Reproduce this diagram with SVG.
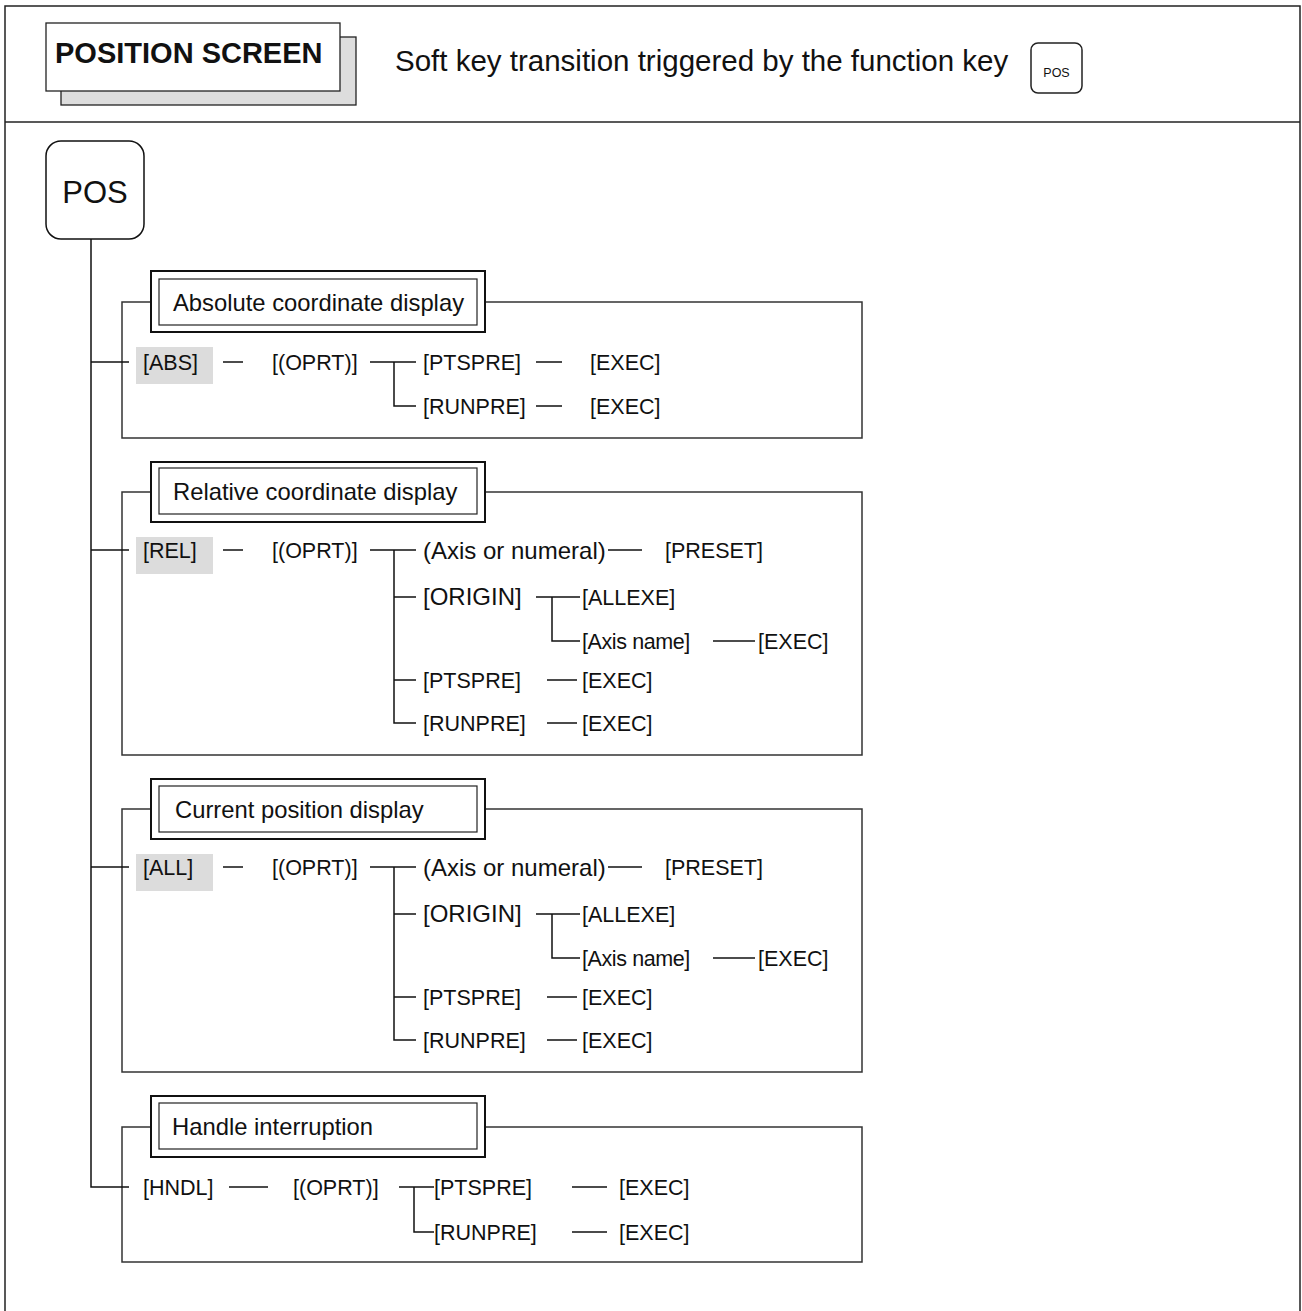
<svg xmlns="http://www.w3.org/2000/svg" width="1302" height="1311" viewBox="0 0 1302 1311">
  <style>
    text { font-family: "Liberation Sans", Arial, sans-serif; fill: #111; }
    .frame { fill: none; stroke: #222; stroke-width: 1.5; }
    .ln { fill: none; stroke: #111; stroke-width: 1.5; }
    .sec { fill: none; stroke: #333; stroke-width: 1.5; }
    .tOuter { fill: #fff; stroke: #111; stroke-width: 2; }
    .tInner { fill: none; stroke: #222; stroke-width: 1.2; }
    .ttl { font-size: 23.8px; }
    .key { font-size: 21.5px; }
    .big { font-size: 24px; }
    .hl { fill: #dcdcdc; }
  </style>

  <!-- outer frame and header divider -->
  <g id="frame">
    <path class="frame" d="M5,1311 V6 H1300 V1311"/>
    <path class="frame" d="M5,122 H1300"/>
  </g>

  <!-- header -->
  <g id="header">
    <rect x="61" y="37" width="295" height="68" fill="#dddddd" stroke="#222" stroke-width="1.3"/>
    <rect x="46" y="23" width="294" height="68" fill="#fff" stroke="#222" stroke-width="1.3"/>
    <text x="55" y="63" font-size="29" font-weight="bold">POSITION SCREEN</text>
    <text x="395" y="71" font-size="29.5">Soft key transition triggered by the function key</text>
    <rect x="1031" y="43" width="51" height="50" rx="7" fill="#fff" stroke="#222" stroke-width="1.5"/>
    <text x="1056.5" y="77" font-size="12.5" text-anchor="middle">POS</text>
  </g>

  <!-- root function key -->
  <g id="node-pos">
    <rect x="46" y="141" width="98" height="98" rx="15" fill="#fff" stroke="#111" stroke-width="1.5"/>
    <text x="95" y="203" font-size="31" text-anchor="middle">POS</text>
  </g>

  <!-- section frames and titles -->
  <g id="sec-abs">
    <path class="sec" d="M151,302 H122 V438 H862 V302 H485"/>
    <rect class="tOuter" x="151" y="271" width="334" height="61"/>
    <rect class="tInner" x="159" y="279" width="318" height="46"/>
    <text class="ttl" x="173" y="311">Absolute coordinate display</text>
  </g>
  <g id="sec-rel">
    <path class="sec" d="M151,492 H122 V755 H862 V492 H485"/>
    <rect class="tOuter" x="151" y="462" width="334" height="60"/>
    <rect class="tInner" x="159" y="468" width="318" height="46"/>
    <text class="ttl" x="173" y="500">Relative coordinate display</text>
  </g>
  <g id="sec-all">
    <path class="sec" d="M151,809 H122 V1072 H862 V809 H485"/>
    <rect class="tOuter" x="151" y="779" width="334" height="60"/>
    <rect class="tInner" x="159" y="786" width="318" height="46"/>
    <text class="ttl" x="175" y="818">Current position display</text>
  </g>
  <g id="sec-hndl">
    <path class="sec" d="M151,1127 H122 V1262 H862 V1127 H485"/>
    <rect class="tOuter" x="151" y="1096" width="334" height="61"/>
    <rect class="tInner" x="159" y="1103" width="318" height="46"/>
    <text class="ttl" x="172" y="1135">Handle interruption</text>
  </g>

  <!-- connectors -->
  <g id="connectors">
    <!-- trunk from POS -->
    <path class="ln" d="M91,239 V1187 H129"/>
    <path class="ln" d="M91,362 H129"/>
    <path class="ln" d="M91,550 H129"/>
    <path class="ln" d="M91,867 H129"/>

    <!-- ABS branch -->
    <path class="ln" d="M223,362 H243"/>
    <path class="ln" d="M370,362 H416 M394,362 V406 H416"/>
    <path class="ln" d="M536,362 H562 M536,406 H562"/>

    <!-- REL branch -->
    <path class="ln" d="M223,550 H243"/>
    <path class="ln" d="M370,550 H416 M394,550 V723 H416 M394,597 H416 M394,680 H416"/>
    <path class="ln" d="M608,550 H642"/>
    <path class="ln" d="M536,597 H580 M552,597 V641 H580"/>
    <path class="ln" d="M713,641 H755"/>
    <path class="ln" d="M547,680 H577 M547,723 H577"/>

    <!-- ALL branch -->
    <path class="ln" d="M223,867 H243"/>
    <path class="ln" d="M370,867 H416 M394,867 V1040 H416 M394,914 H416 M394,997 H416"/>
    <path class="ln" d="M608,867 H642"/>
    <path class="ln" d="M536,914 H580 M552,914 V958 H580"/>
    <path class="ln" d="M713,958 H755"/>
    <path class="ln" d="M547,997 H577 M547,1040 H577"/>

    <!-- HNDL branch -->
    <path class="ln" d="M229,1187 H268"/>
    <path class="ln" d="M399,1187 H434 M414,1187 V1232 H434"/>
    <path class="ln" d="M572,1187 H607 M572,1232 H607"/>
  </g>

  <!-- soft keys: absolute -->
  <g id="key-abs">
    <rect class="hl" x="136" y="347" width="77" height="37"/>
    <text class="key" x="143" y="370">[ABS]</text>
  </g>
  <g id="abs-oprt"><text class="key" x="272" y="370">[(OPRT)]</text></g>
  <g id="abs-ptspre"><text class="key" x="423" y="370">[PTSPRE]</text></g>
  <g id="abs-ptspre-exec"><text class="key" x="590" y="370">[EXEC]</text></g>
  <g id="abs-runpre"><text class="key" x="423" y="414">[RUNPRE]</text></g>
  <g id="abs-runpre-exec"><text class="key" x="590" y="414">[EXEC]</text></g>

  <!-- soft keys: relative -->
  <g id="key-rel">
    <rect class="hl" x="136" y="537" width="77" height="37"/>
    <text class="key" x="143" y="558">[REL]</text>
  </g>
  <g id="rel-oprt"><text class="key" x="272" y="558">[(OPRT)]</text></g>
  <g id="rel-axis"><text class="big" x="423" y="559">(Axis or numeral)</text></g>
  <g id="rel-preset"><text class="key" x="665" y="558">[PRESET]</text></g>
  <g id="rel-origin"><text class="big" x="423" y="605">[ORIGIN]</text></g>
  <g id="rel-allexe"><text class="key" x="582" y="605">[ALLEXE]</text></g>
  <g id="rel-axisname"><text class="key" x="582" y="649" letter-spacing="-0.4">[Axis name]</text></g>
  <g id="rel-axisname-exec"><text class="key" x="758" y="649">[EXEC]</text></g>
  <g id="rel-ptspre"><text class="key" x="423" y="688">[PTSPRE]</text></g>
  <g id="rel-ptspre-exec"><text class="key" x="582" y="688">[EXEC]</text></g>
  <g id="rel-runpre"><text class="key" x="423" y="731">[RUNPRE]</text></g>
  <g id="rel-runpre-exec"><text class="key" x="582" y="731">[EXEC]</text></g>

  <!-- soft keys: current position -->
  <g id="key-all">
    <rect class="hl" x="136" y="854" width="77" height="37"/>
    <text class="key" x="143" y="875">[ALL]</text>
  </g>
  <g id="all-oprt"><text class="key" x="272" y="875">[(OPRT)]</text></g>
  <g id="all-axis"><text class="big" x="423" y="876">(Axis or numeral)</text></g>
  <g id="all-preset"><text class="key" x="665" y="875">[PRESET]</text></g>
  <g id="all-origin"><text class="big" x="423" y="922">[ORIGIN]</text></g>
  <g id="all-allexe"><text class="key" x="582" y="922">[ALLEXE]</text></g>
  <g id="all-axisname"><text class="key" x="582" y="966" letter-spacing="-0.4">[Axis name]</text></g>
  <g id="all-axisname-exec"><text class="key" x="758" y="966">[EXEC]</text></g>
  <g id="all-ptspre"><text class="key" x="423" y="1005">[PTSPRE]</text></g>
  <g id="all-ptspre-exec"><text class="key" x="582" y="1005">[EXEC]</text></g>
  <g id="all-runpre"><text class="key" x="423" y="1048">[RUNPRE]</text></g>
  <g id="all-runpre-exec"><text class="key" x="582" y="1048">[EXEC]</text></g>

  <!-- soft keys: handle interruption -->
  <g id="key-hndl"><text class="key" x="143" y="1195">[HNDL]</text></g>
  <g id="hndl-oprt"><text class="key" x="293" y="1195">[(OPRT)]</text></g>
  <g id="hndl-ptspre"><text class="key" x="434" y="1195">[PTSPRE]</text></g>
  <g id="hndl-ptspre-exec"><text class="key" x="619" y="1195">[EXEC]</text></g>
  <g id="hndl-runpre"><text class="key" x="434" y="1240">[RUNPRE]</text></g>
  <g id="hndl-runpre-exec"><text class="key" x="619" y="1240">[EXEC]</text></g>
</svg>
